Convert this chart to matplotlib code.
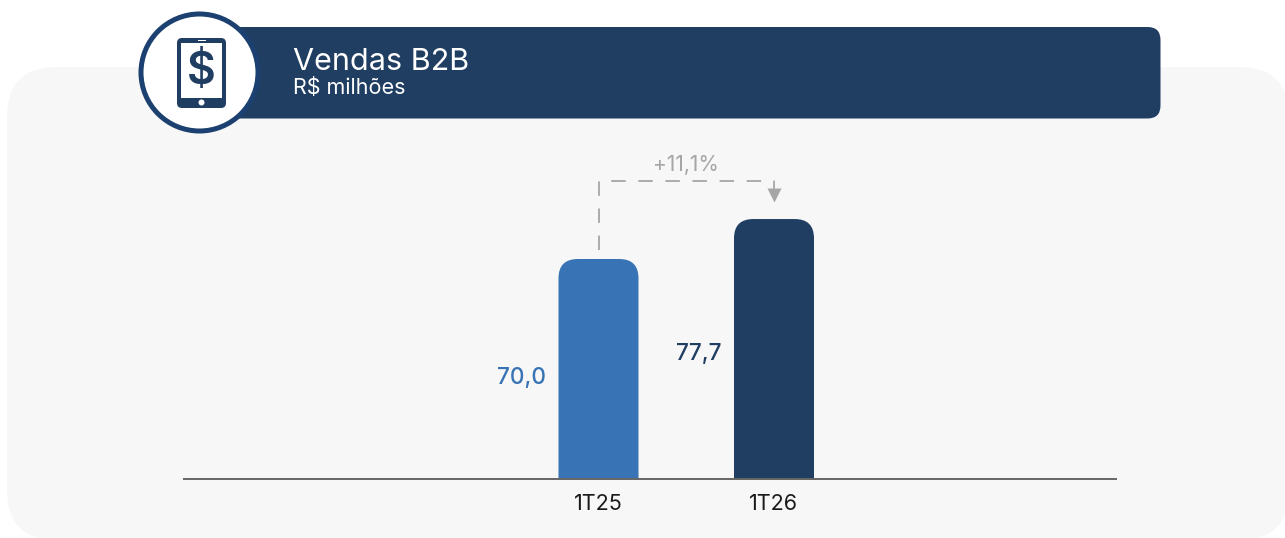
import matplotlib
matplotlib.use('Agg')
import matplotlib.pyplot as plt
from matplotlib.patches import FancyBboxPatch, Circle, Rectangle

categories = ["1T25", "1T26"]
values = [70.0, 77.7]
value_labels = ["70,0", "77,7"]
bar_colors = ["#3873B5", "#203D62"]
growth_label = "+11,1%"
title = "Vendas B2B"
subtitle = "R$ milhões"

W, H = 1285, 538
NAVY = "#203D62"
RING = "#1C4170"
GREY = "#A6A6A6"
plt.rcParams['font.family'] = ['Inter', 'DejaVu Sans']

fig = plt.figure(figsize=(W / 100, H / 100), dpi=100, facecolor="white")

# decoration layer, in pixels of the picture
bg = fig.add_axes([0, 0, 1, 1], zorder=0)
bg.set_xlim(0, W)
bg.set_ylim(H, 0)
bg.axis("off")

bg.add_patch(FancyBboxPatch((7, 67), 1282, 473, boxstyle="round,pad=0,rounding_size=50",
                            fc="#F7F7F7", ec="none"))
bg.add_patch(FancyBboxPatch((215, 27), 945.5, 91.5, boxstyle="round,pad=0,rounding_size=13",
                            fc=NAVY, ec="none"))
bg.add_patch(Circle((199.5, 72.5), 58.5, fc="white", ec=RING, lw=3.6))

# tablet icon
bg.add_patch(FancyBboxPatch((177, 38), 49, 70, boxstyle="round,pad=0,rounding_size=5",
                            fc=NAVY, ec="none"))
bg.add_patch(Rectangle((181, 42.5), 41, 55, fc="white", ec="none"))
bg.add_patch(Rectangle((197.5, 39.5), 8, 1.5, fc="white", ec="none"))
bg.add_patch(Circle((201.5, 102.5), 3, fc="white", ec="none"))
bg.text(201.5, 72.5, "$", color=NAVY, fontsize=32, fontweight="semibold", ha="center", va="center")

bg.text(293, 62, title, color="white", fontsize=22, ha="left", va="center")
bg.text(293, 88, subtitle, color="white", fontsize=15.5, ha="left", va="center")

# chart, the axis does not start at zero
left, right, base, top = 183, 1117, 479, 140
px_per_cat = 175.5
px_per_val = 5.19
first_x = 598.5

ax = fig.add_axes([left / W, 1 - base / H, (right - left) / W, (base - top) / H],
                  zorder=1, facecolor="none")
ax.set_xlim((left - first_x) / px_per_cat, (right - first_x) / px_per_cat)
y0 = values[0] - (base - 259) / px_per_val
ax.set_ylim(y0, y0 + (base - top) / px_per_val)

bar_w = 80 / px_per_cat
aspect = px_per_cat / px_per_val
for i, v in enumerate(values):
    # box goes below the axis so only the top corners stay round
    ax.add_patch(FancyBboxPatch((i - bar_w / 2, y0 - 10), bar_w, v - y0 + 10,
                                boxstyle="round,pad=0,rounding_size=0.11",
                                mutation_aspect=aspect, fc=bar_colors[i], ec="none"))
    ax.annotate(value_labels[i], xy=(i - bar_w / 2, (y0 + v) / 2), xytext=(-9, -[6.5, 3.5][i]),
                textcoords="offset points", ha="right", va="center",
                color=bar_colors[i], fontsize=16.3, fontweight="medium")

for s in ["top", "left", "right"]:
    ax.spines[s].set_visible(False)
ax.spines["bottom"].set_color("#666666")
ax.spines["bottom"].set_linewidth(1.4)
ax.spines["bottom"].set_capstyle("butt")
ax.set_yticks([])
ax.set_xticks(range(len(categories)))
ax.set_xticklabels(categories, fontsize=15.5, color="#1A1A1A")
ax.tick_params(axis="x", length=0, pad=11)

# growth arrow
level = values[1] + 38 / px_per_val
ax.plot([0, 0, 1, 1], [values[0] + 9 / px_per_val, level, level, level - 8 / px_per_val],
        color=GREY, lw=1.3, dashes=(8, 7), dash_capstyle="butt", solid_joinstyle="miter",
        clip_on=False)
ax.plot([1], [values[1] + 24 / px_per_val], marker="v", ms=10, color=GREY, mec="none", clip_on=False)
ax.text(0.5, level + 16 / px_per_val, growth_label, color=GREY, fontsize=15, ha="center", va="center")

fig.savefig("out.png", dpi=100)
plt.close(fig)
